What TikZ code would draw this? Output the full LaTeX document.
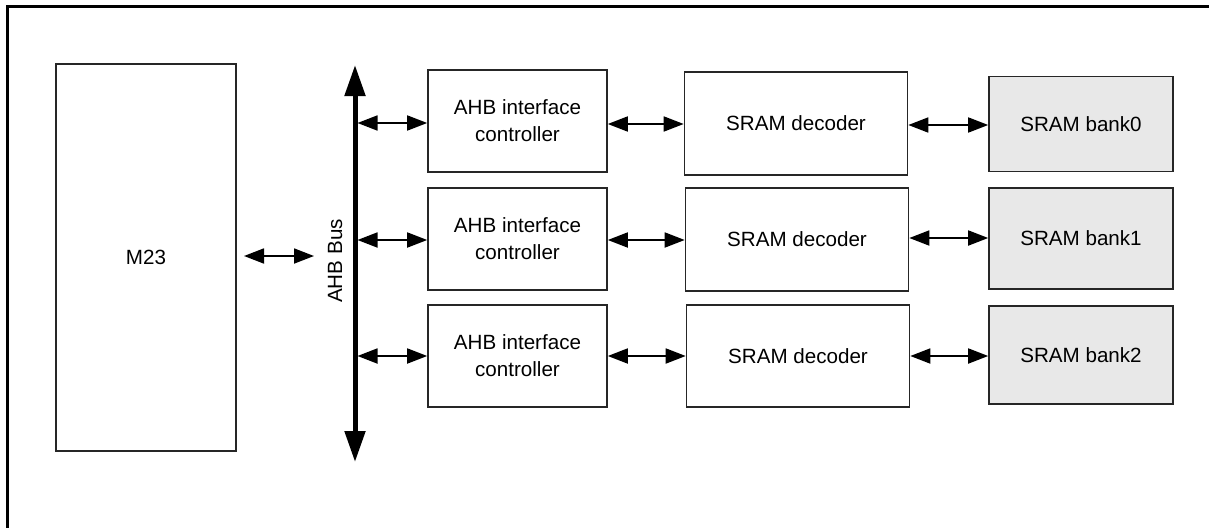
\documentclass[tikz,border=0pt]{standalone}
\usepackage{fontspec}
\setmainfont{Liberation Sans}
\usetikzlibrary{arrows.meta}
\begin{document}
\begin{tikzpicture}[x=1pt,y=-1pt,
  blk/.style={draw=black!85,line width=1.6pt,inner sep=0pt,align=center,
    font=\fontsize{20.6}{27}\selectfont},
  bank/.style={blk,fill=black!9},
  link/.style={line width=1.8pt,{Triangle[length=20pt,width=15pt]}-{Triangle[length=20pt,width=15pt]}},
  busline/.style={line width=5pt,{Triangle[length=31pt,width=20pt]}-{Triangle[length=31pt,width=20pt]}}]
\useasboundingbox (0,0) rectangle (1209,527);
\draw[line width=3pt] (7,540) -- (7,7) -- (1220,7);
% M23
\node[blk,minimum width=180pt,minimum height=387pt] (m23) at (146,257.5) {M23};
% bus
\coordinate (bustop) at (355,65);
\coordinate (busbot) at (355,462);
\draw[busline] (bustop) -- (busbot);
\node[rotate=90,anchor=base,font=\fontsize{20.6}{27}\selectfont] (buslabel) at (342,261) {AHB Bus};
\coordinate (m23a) at (244,256);
\coordinate (m23b) at (314,256);
\draw[link] (m23a) -- (m23b);
% rows
\node[blk,minimum width=179pt,minimum height=102pt] (ahb1) at (517.5,121) {AHB interface\\controller};
\node[blk,minimum width=179pt,minimum height=102pt] (ahb2) at (517.5,239) {AHB interface\\controller};
\node[blk,minimum width=179pt,minimum height=102pt] (ahb3) at (517.5,356) {AHB interface\\controller};
\node[blk,minimum width=223pt,minimum height=103pt] (dec1) at (796,123.5) {SRAM decoder};
\node[blk,minimum width=223pt,minimum height=103pt] (dec2) at (797,239.5) {SRAM decoder};
\node[blk,minimum width=223pt,minimum height=102pt] (dec3) at (798,356) {SRAM decoder};
\node[bank,minimum width=184pt,minimum height=95pt] (bank1) at (1081,124) {SRAM bank0};
\node[bank,minimum width=184pt,minimum height=101pt] (bank2) at (1081,238.5) {SRAM bank1};
\node[bank,minimum width=184pt,minimum height=98pt] (bank3) at (1081,355) {SRAM bank2};
% bus taps
\coordinate (tap1) at (357.5,123);
\coordinate (tap2) at (357.5,240);
\coordinate (tap3) at (357.5,356);
\draw[link] (tap1) -- (tap1 -| ahb1.west);
\draw[link] (tap2) -- (tap2 -| ahb2.west);
\draw[link] (tap3) -- (tap3 -| ahb3.west);
% row links
\draw[link] (ahb1.east |- 0,124) -- (dec1.west |- 0,124);
\draw[link] (ahb2.east |- 0,240) -- (dec2.west |- 0,240);
\draw[link] (ahb3.east |- 0,356) -- (dec3.west |- 0,356);
\draw[link] (dec1.east |- 0,125) -- (bank1.west |- 0,125);
\draw[link] (dec2.east |- 0,238) -- (bank2.west |- 0,238);
\draw[link] (dec3.east |- 0,356) -- (bank3.west |- 0,356);
\end{tikzpicture}
\end{document}
